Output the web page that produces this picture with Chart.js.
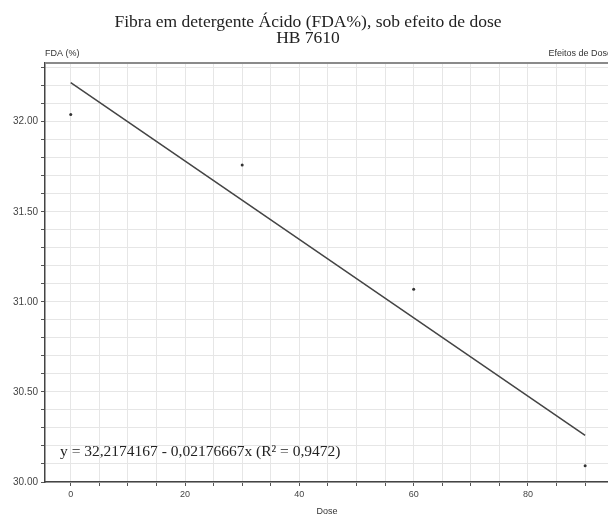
<!DOCTYPE html>
<html>
<head>
<meta charset="utf-8">
<script src="https://cdn.jsdelivr.net/npm/chart.js@4"></script>
<style>
  html, body { margin: 0; padding: 0; background: #fff; overflow: hidden; }
  #wrap { width: 608px; height: 518px; overflow: hidden; }
</style>
</head>
<body>
<div id="wrap"><canvas id="myChart" width="612" height="518"></canvas></div>
<script>
// dados
const doses = [0, 30, 60, 90];
const fda = [32.04, 31.76, 31.07, 30.09];

// regressao y = a + b*x
const coefA = 32.2174167;
const coefB = -0.02176667;
const lineX = [0, 90];

const xLabels = [0, 20, 40, 60, 80];
const yLabels = [30.0, 30.5, 31.0, 31.5, 32.0];

const titleLines = ["Fibra em detergente Ácido (FDA%), sob efeito de dose", "HB 7610"];
const eqText = "y = 32,2174167 - 0,02176667x (R² = 0,9472)";

let pontos = [];
for (let i = 0; i < doses.length; i++) {
    pontos.push({ x: doses[i], y: fda[i] });
}

let reta = [];
for (let i = 0; i < lineX.length; i++) {
    reta.push({ x: lineX[i], y: coefA + coefB * lineX[i] });
}

// textos extras (titulo, rotulos, equacao)
const textos = {
    id: "textos",
    afterDraw(chart) {
        const c = chart.ctx;
        const area = chart.chartArea;
        c.save();
        c.fillStyle = "#222";
        c.textAlign = "center";
        c.textBaseline = "alphabetic";
        c.font = "17.5px 'Liberation Serif'";
        c.fillText(titleLines[0], 308, 27);
        c.fillText(titleLines[1], 308, 43);

        c.textBaseline = "middle";
        c.font = "9px 'Liberation Sans'";
        c.fillStyle = "#333";
        c.textAlign = "left";
        c.fillText("FDA (%)", 45, 54);
        c.textAlign = "right";
        c.fillText("Efeitos de Dose", 612, 54);
        c.textAlign = "center";
        c.fillText("Dose", 327, 512);

        // linha superior
        c.strokeStyle = "#8a8a8a";
        c.lineWidth = 2;
        c.beginPath();
        c.moveTo(area.left, area.top);
        c.lineTo(area.right, area.top);
        c.stroke();

        // equacao
        c.font = "15.5px 'Liberation Serif'";
        c.fillStyle = "#222";
        c.textAlign = "left";
        c.fillText(eqText, 60, 452);
        c.restore();
    }
};

const ctx = document.getElementById("myChart");

new Chart(ctx, {
    type: "scatter",
    data: {
        datasets: [
            {
                label: "FDA",
                data: pontos,
                pointRadius: 1.5,
                pointBackgroundColor: "#333",
                pointBorderWidth: 0,
                showLine: false
            },
            {
                label: "reta",
                data: reta,
                showLine: true,
                borderColor: "#444",
                borderWidth: 1.5,
                pointRadius: 0
            }
        ]
    },
    options: {
        responsive: false,
        animation: false,
        layout: { padding: { top: 63, left: 0, right: 0, bottom: 0 } },
        plugins: {
            legend: { display: false },
            title: { display: false },
            tooltip: { enabled: false }
        },
        scales: {
            x: {
                type: "linear",
                min: -4.5,
                max: 94.0,
                afterFit(scale) { scale.height = 36; },
                afterBuildTicks(scale) {
                    let t = [];
                    for (let v = 0; v <= 90; v += 5) t.push({ value: v });
                    scale.ticks = t;
                },
                grid: { color: "#e6e6e6", tickColor: "#555", tickLength: 4 },
                border: { color: "#444", width: 1.5 },
                ticks: {
                    autoSkip: false,
                    maxRotation: 0,
                    padding: 3,
                    color: "#444",
                    font: { family: "Liberation Sans", size: 9 },
                    callback: (v) => xLabels.includes(v) ? String(v) : ""
                }
            },
            y: {
                type: "linear",
                min: 30,
                max: 32.326,
                afterFit(scale) { scale.width = 45; },
                afterBuildTicks(scale) {
                    let t = [];
                    for (let k = 0; k <= 23; k++) t.push({ value: 30 + k / 10 });
                    scale.ticks = t;
                },
                grid: { color: "#e6e6e6", tickColor: "#555", tickLength: 4 },
                border: { color: "#444", width: 1.5 },
                ticks: {
                    autoSkip: false,
                    padding: 3,
                    color: "#444",
                    font: { family: "Liberation Sans", size: 10 },
                    callback: (v) => {
                        for (let i = 0; i < yLabels.length; i++) {
                            if (Math.abs(v - yLabels[i]) < 1e-6) return yLabels[i].toFixed(2);
                        }
                        return "";
                    }
                }
            }
        }
    },
    plugins: [textos]
});
</script>
</body>
</html>
